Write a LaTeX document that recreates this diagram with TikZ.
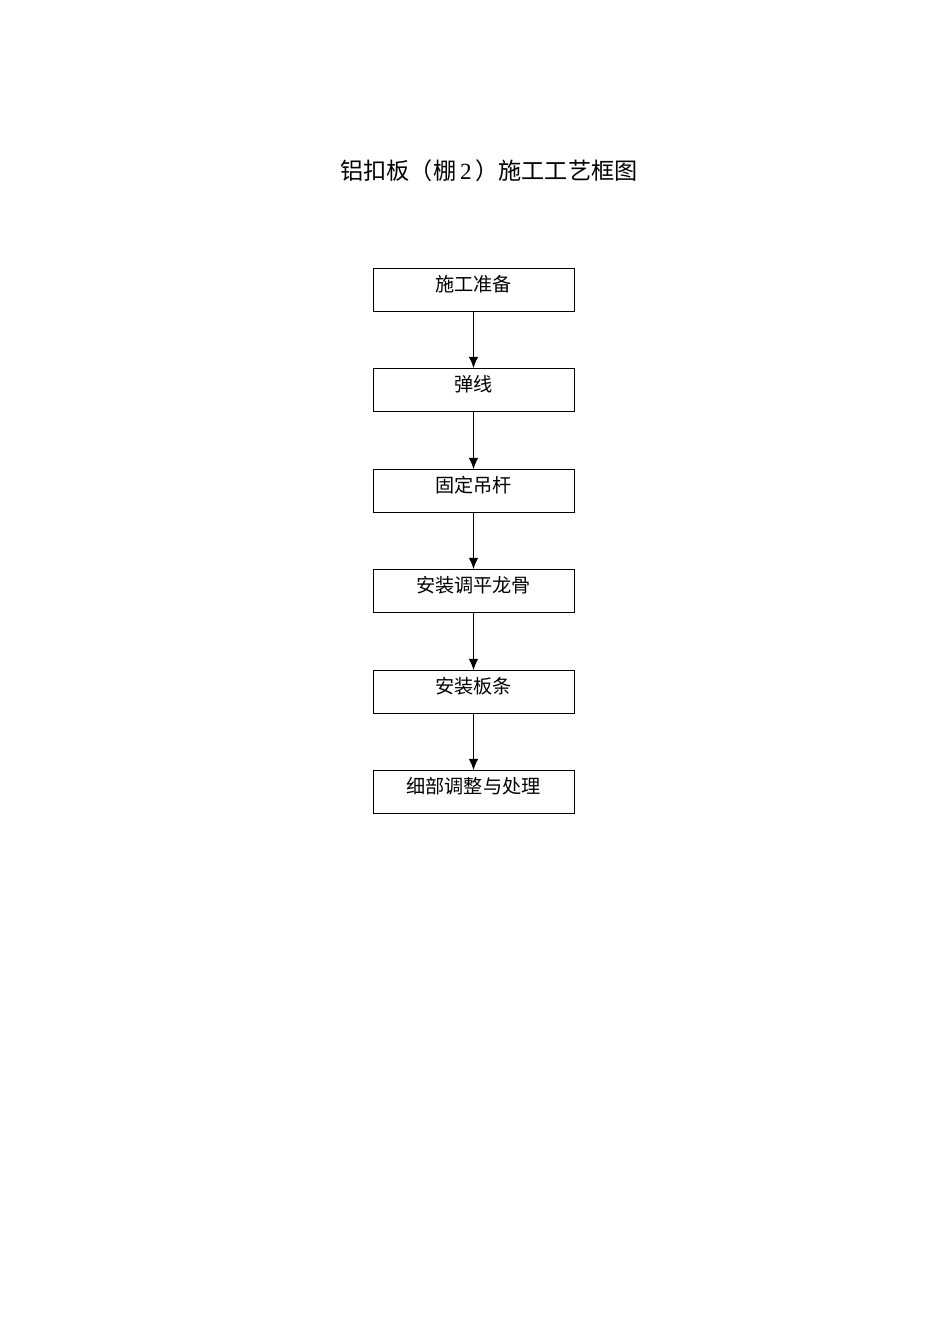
\documentclass[tikz,border=0pt]{standalone}
\usepackage{fontspec}
\setmainfont{Liberation Serif}
\newfontfamily\cjk{Noto Sans CJK SC}
\usetikzlibrary{arrows.meta}
\begin{document}
\begin{tikzpicture}[x=0.6263pt,y=-0.6263pt,
  stepbox/.style={draw,line width=0.6pt,minimum width=125.9pt,minimum height=26.9pt,inner sep=0pt},
  lbl/.style={font=\cjk\fontsize{12pt}{14pt}\selectfont,inner sep=0pt},
  arr/.style={-{Latex[length=7pt,width=6pt]},line width=0.6pt}]
\useasboundingbox (0,0) rectangle (950,1344);
\node[font=\fontsize{14.5pt}{16pt}\selectfont,inner sep=0pt] (title) at (489,171) {{\cjk 铝扣板（棚}\,2\,{\cjk ）施工工艺框图}};
\foreach \i/\y/\t in {1/268/施工准备,2/368/弹线,3/469/固定吊杆,4/569/安装调平龙骨,5/670/安装板条,6/770/细部调整与处理}{
  \node[stepbox,anchor=north] (b\i) at (473.5,\y) {};
  \node[lbl] (t\i) at (473.5,\y+16) {\t};
}
\foreach \a/\b in {1/2,2/3,3/4,4/5,5/6}{
  \draw[arr] (b\a.south) -- (b\b.north);
}
\end{tikzpicture}
\end{document}
